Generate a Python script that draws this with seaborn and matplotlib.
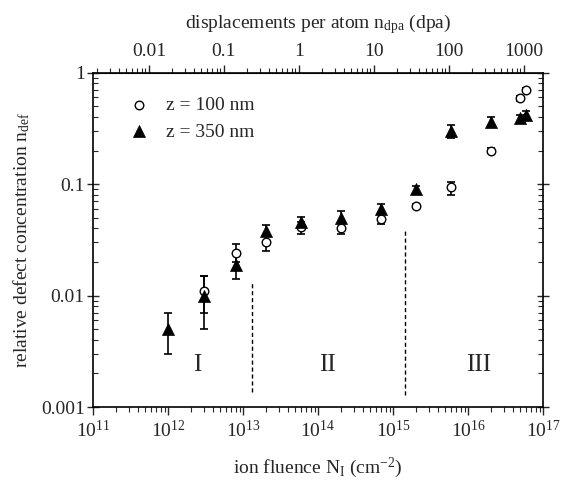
import numpy as np
import pandas as pd
import matplotlib
matplotlib.use("Agg")
import matplotlib.pyplot as plt
from matplotlib.ticker import FixedLocator, FuncFormatter, LogLocator, NullFormatter
import seaborn as sns

# ion fluence (cm^-2) and relative defect concentration, z = 100 nm
fluence_100 = [3e12, 8e12, 2e13, 6e13, 2e14, 7e14, 2e15, 6e15, 2e16, 5e16, 6e16]
ndef_100 = [0.011, 0.024, 0.030, 0.041, 0.040, 0.049, 0.064, 0.095, 0.20, 0.59, 0.70]
low_100 = [0.007, 0.020, 0.025, 0.0355, 0.0355, 0.044, 0.061, 0.080, 0.19, 0.56, 0.67]
high_100 = [0.015, 0.029, 0.035, 0.046, 0.045, 0.055, 0.067, 0.105, 0.21, 0.62, 0.73]

# z = 350 nm
fluence_350 = [1e12, 3e12, 8e12, 2e13, 6e13, 2e14, 7e14, 2e15, 6e15, 2e16, 5e16, 6e16]
ndef_350 = [0.005, 0.010, 0.019, 0.038, 0.046, 0.050, 0.060, 0.090, 0.30, 0.36, 0.39, 0.42]
low_350 = [0.003, 0.005, 0.014, 0.034, 0.041, 0.045, 0.055, 0.083, 0.26, 0.33, 0.36, 0.39]
high_350 = [0.007, 0.015, 0.024, 0.043, 0.051, 0.057, 0.066, 0.097, 0.34, 0.40, 0.42, 0.45]

series_labels = ["z = 100 nm", "z = 350 nm"]

# stage boundaries and stage labels
boundary_x = [1.32e13, 1.46e15]
boundary_top = [0.0134, 0.0388]
boundary_bottom = [0.00135, 0.00129]
stage_names = ["I", "II", "III"]
stage_x = [2.45e12, 1.35e14, 1.4e16]
stage_y = 0.0024

# dpa axis
dpa_ticks = [0.01, 0.1, 1, 10, 100, 1000]
dpa_per_fluence = 1.796e-14

sns.set_style("ticks")
plt.rcParams["font.family"] = ["Liberation Serif", "DejaVu Serif"]
plt.rcParams["mathtext.fontset"] = "custom"
plt.rcParams["mathtext.rm"] = "Liberation Serif"
plt.rcParams["mathtext.it"] = "Liberation Serif:italic"
plt.rcParams["mathtext.bf"] = "Liberation Serif:bold"
fs = 14

fig = plt.figure(figsize=(5.68, 4.88), dpi=100)
ax = fig.add_axes([93 / 568, 1 - 407 / 488, 450 / 568, (407 - 72.7) / 488])

df100 = pd.DataFrame({"fluence": fluence_100, "ndef": ndef_100, "series": series_labels[0]})
df350 = pd.DataFrame({"fluence": fluence_350, "ndef": ndef_350, "series": series_labels[1]})

# error bars
for f, y, lo, hi in [(fluence_350, ndef_350, low_350, high_350),
                     (fluence_100, ndef_100, low_100, high_100)]:
    y = np.array(y)
    yerr = np.vstack([y - np.array(lo), np.array(hi) - y])
    ax.errorbar(f, y, yerr=yerr, fmt="none", ecolor="black", elinewidth=1.2,
                capsize=3, capthick=1.2, zorder=2)

sns.scatterplot(data=df100, x="fluence", y="ndef", ax=ax, marker="o", s=38,
                facecolor="white", edgecolor="black", linewidth=1.0, zorder=3,
                label=series_labels[0])
sns.scatterplot(data=df350, x="fluence", y="ndef", ax=ax, marker="^", s=75,
                color="black", edgecolor="black", linewidth=0.5, zorder=4,
                label=series_labels[1])

ax.set_xscale("log")
ax.set_yscale("log")
ax.set_xlim(1e11, 1e17)
ax.set_ylim(1e-3, 1)

for bx, bt, bb in zip(boundary_x, boundary_top, boundary_bottom):
    ax.plot([bx, bx], [bb, bt], color="black", linestyle=(0, (3, 2)), linewidth=1.0)

for name, sx in zip(stage_names, stage_x):
    ax.text(sx, stage_y, name, ha="center", va="center", fontsize=18)

ax.set_xlabel(r"ion fluence N$_\mathrm{I}$ (cm$^{-2}$)", fontsize=fs, labelpad=11)
ax.set_ylabel(r"relative defect concentration n$_\mathrm{def}$", fontsize=fs, labelpad=6)

ax.xaxis.set_major_locator(LogLocator(base=10, numticks=20))
ax.xaxis.set_minor_locator(LogLocator(base=10, subs=np.arange(2, 10), numticks=20))
ax.yaxis.set_major_locator(FixedLocator([0.001, 0.01, 0.1, 1]))
ax.yaxis.set_major_formatter(FuncFormatter(lambda v, p: f"{v:g}"))
ax.yaxis.set_minor_locator(LogLocator(base=10, subs=np.arange(2, 10), numticks=20))
ax.yaxis.set_minor_formatter(NullFormatter())

ax.tick_params(axis="x", which="major", direction="out", length=6, width=1.0, labelsize=fs, pad=3)
ax.tick_params(axis="x", which="minor", direction="out", length=3.5, width=0.8)
ax.tick_params(axis="y", which="major", direction="inout", length=8, width=1.0, labelsize=fs,
               right=True, pad=2)
ax.tick_params(axis="y", which="minor", direction="in", length=3.5, width=0.8, right=True)

for sp in ax.spines.values():
    sp.set_linewidth(1.2)
    sp.set_color("black")

top = ax.secondary_xaxis("top", functions=(lambda x: x * dpa_per_fluence,
                                           lambda d: d / dpa_per_fluence))
top.xaxis.set_major_locator(FixedLocator(dpa_ticks))
top.xaxis.set_major_formatter(FuncFormatter(lambda v, p: f"{v:g}"))
top.xaxis.set_minor_locator(LogLocator(base=10, subs=np.arange(2, 10), numticks=20))
top.xaxis.set_minor_formatter(NullFormatter())
top.tick_params(axis="x", which="major", direction="out", length=6, width=1.0, labelsize=fs, pad=3)
top.tick_params(axis="x", which="minor", direction="out", length=3.5, width=0.8)
top.set_xlabel(r"displacements per atom n$_\mathrm{dpa}$ (dpa)", fontsize=fs, labelpad=11)

leg = ax.legend(loc="upper left", bbox_to_anchor=(0.025, 0.975), frameon=False,
                fontsize=fs, handletextpad=0.4, borderaxespad=0.4, labelspacing=0.45)

fig.savefig("out.png", dpi=100)
